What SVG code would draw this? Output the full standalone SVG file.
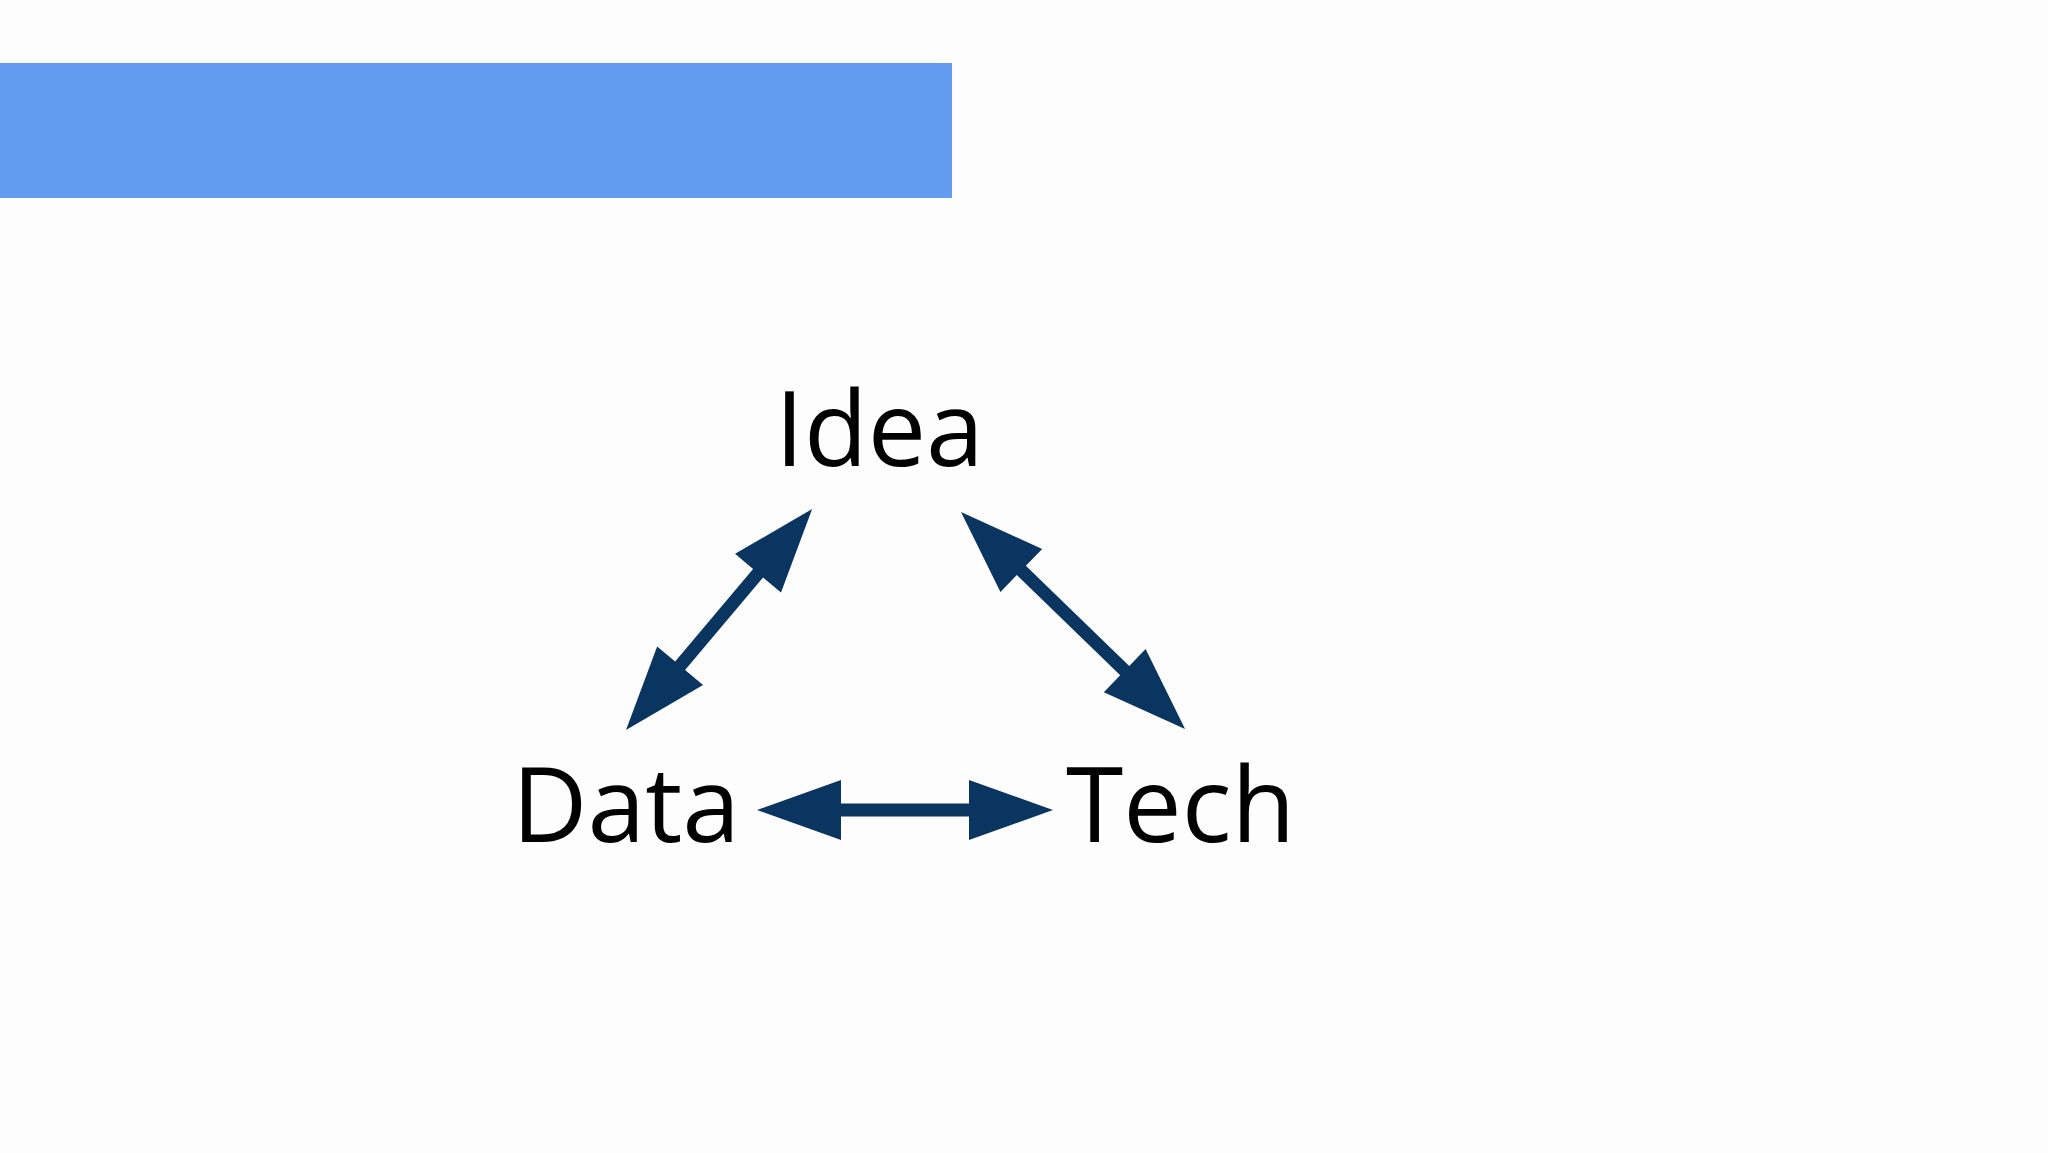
<svg xmlns="http://www.w3.org/2000/svg" width="2048" height="1153" viewBox="0 0 2048 1153">
<style>
.t{font-family:"Open Sans","Noto Sans",sans-serif;font-size:104px;fill:#000}
.a{fill:#0B3561}
</style>
<rect width="2048" height="1153" fill="#fdfdfd"/>
<rect x="0" y="63" width="952" height="135" fill="#639BF1"/>
<g id="idea"><text class="t" x="775" y="466">Idea</text></g>
<g id="data"><text class="t" x="512" y="842">Data</text></g>
<g id="tech"><text class="t" x="1066" y="842">Tech</text></g>
<g id="connectors">
<polygon class="a" transform="translate(757,810)" points="0,0 84,-30 84,-6.5 212,-6.5 212,-30 296,0 212,30 212,6.5 84,6.5 84,30"/>
<polygon class="a" transform="translate(626,730) rotate(-49.9)" points="0,0 84,-30 84,-6.5 205,-6.5 205,-30 289,0 205,30 205,6.5 84,6.5 84,30"/>
<polygon class="a" transform="translate(961,512) rotate(44.1)" points="0,0 84,-30 84,-6.5 228,-6.5 228,-30 312,0 228,30 228,6.5 84,6.5 84,30"/>
</g>
</svg>
